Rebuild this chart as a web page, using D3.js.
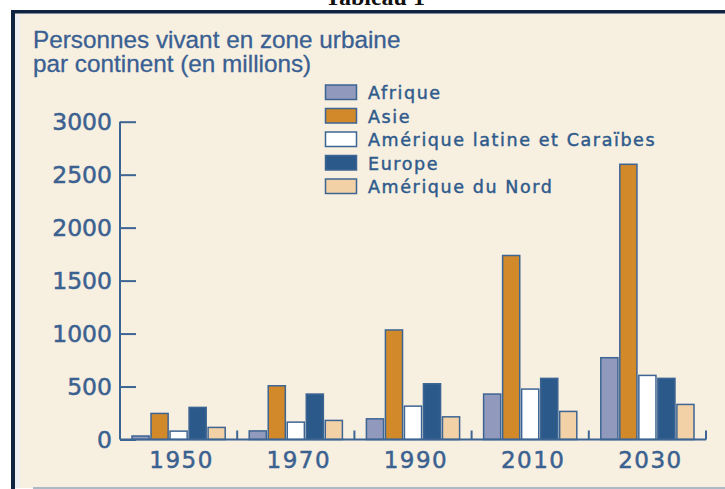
<!DOCTYPE html>
<html><head><meta charset="utf-8">
<script src="https://cdn.jsdelivr.net/npm/d3@7"></script>
<style>html,body{margin:0;padding:0;background:#fff;}svg{display:block;}</style>
</head><body>
<script>
const years = ["1950","1970","1990","2010","2030"];
const seriesNames = ["Afrique","Asie","Amérique latine et Caraïbes","Europe","Amérique du Nord"];
const afrique = [33, 81, 195, 429, 772];
const asie = [246, 507, 1034, 1737, 2598];
const ameriqueLatine = [79, 164, 315, 476, 605];
const europe = [303, 429, 526, 577, 577];
const ameriqueNord = [114, 180, 214, 265, 331];
const yTicks = [0, 500, 1000, 1500, 2000, 2500, 3000];
const colors = ["#9199bc", "#d1892a", "#ffffff", "#2b5a8a", "#f2d1a6"];
const seriesValues = [afrique, asie, ameriqueLatine, europe, ameriqueNord];

const W = 725, H = 489;
const svg = d3.select("body").append("svg").attr("width", W).attr("height", H);

// frame
svg.append("rect").attr("x",0).attr("y",0).attr("width",W).attr("height",H).attr("fill","#fff");
svg.append("rect").attr("x",13).attr("y",12).attr("width",W-13).attr("height",476).attr("fill","#f7efe0");
svg.append("rect").attr("x",15).attr("y",13).attr("width",5).attr("height",475).attr("fill","#eceef2");
svg.append("rect").attr("x",15).attr("y",13).attr("width",W-15).attr("height",2).attr("fill","#f3efe8");
svg.append("rect").attr("x",11).attr("y",10).attr("width",W-11).attr("height",3.5).attr("fill","#0f2443");
svg.append("rect").attr("x",11).attr("y",10).attr("width",4).attr("height",H-10).attr("fill","#0f2443");
svg.append("rect").attr("x",33).attr("y",487).attr("width",W-33).attr("height",2).attr("fill","#aeb9c6");

svg.append("text").attr("x",375).attr("y",5).attr("text-anchor","middle")
  .attr("font-family","Liberation Serif").attr("font-weight","bold").attr("font-size",24)
  .attr("fill","#111").text("Tableau 1");

// title
const title = svg.append("text").attr("font-family","Liberation Sans").attr("font-size",24.3)
  .attr("fill","#3a5f92").attr("stroke","#3a5f92").attr("stroke-width",0.3);
title.append("tspan").attr("x",33).attr("y",48).text("Personnes vivant en zone urbaine");
title.append("tspan").attr("x",33).attr("y",72).text("par continent (en millions)");

const y = d3.scaleLinear().domain([0,3000]).range([439.5,121.7]);
const x0 = d3.scaleBand().domain(years).range([120,706]).paddingInner(0).paddingOuter(0);
const x1 = d3.scaleBand().domain(d3.range(seriesNames.length)).range([12, x0.bandwidth()-12]).paddingInner(0.1);

const axisColor = "#3d6593", textColor = "#3b6190";

// bars
const g = svg.append("g");
years.forEach((yr, i) => {
  const gg = g.append("g").attr("transform", `translate(${x0(yr)},0)`);
  seriesValues.forEach((vals, s) => {
    gg.append("rect")
      .attr("x", x1(s)).attr("width", x1.bandwidth())
      .attr("y", y(vals[i])).attr("height", y(0) - y(vals[i]))
      .attr("fill", colors[s]).attr("stroke", axisColor).attr("stroke-width", 1.5);
  });
});

// y axis
const yAxis = d3.axisRight(y).tickValues(yTicks).tickSize(16).tickFormat("");
const ya = svg.append("g").attr("transform","translate(120,0)").call(yAxis);
ya.selectAll("path,line").attr("stroke",axisColor).attr("stroke-width",2);
ya.select(".domain").attr("d", `M0,${y(3000)}V${y(0)}`).attr("fill","none");
svg.append("g").selectAll("text").data(yTicks).join("text")
  .attr("x",112).attr("y",d=>y(d)).attr("dy","0.36em").attr("text-anchor","end")
  .attr("font-family","DejaVu Sans").attr("font-size",23.5).attr("fill",textColor)
  .attr("stroke",textColor).attr("stroke-width",0.5)
  .text(d=>d);

// x axis
svg.append("line").attr("x1",120).attr("x2",706).attr("y1",y(0)).attr("y2",y(0))
  .attr("stroke",axisColor).attr("stroke-width",2);
svg.append("g").selectAll("line").data(years).join("line")
  .attr("x1",d=>x0(d)+x0.bandwidth()).attr("x2",d=>x0(d)+x0.bandwidth())
  .attr("y1",y(0)).attr("y2",y(0)-9).attr("stroke",axisColor).attr("stroke-width",2);
svg.append("g").selectAll("text").data(years).join("text")
  .attr("x",d=>x0(d)+x0.bandwidth()/2+3).attr("y",468).attr("text-anchor","middle")
  .attr("font-family","DejaVu Sans").attr("font-size",23).attr("letter-spacing",1.5).attr("fill",textColor)
  .attr("stroke",textColor).attr("stroke-width",0.5)
  .text(d=>d);

// legend
const lg = svg.append("g");
seriesNames.forEach((name, s) => {
  const top = 85 + s*23.5;
  lg.append("rect").attr("x",325.5).attr("y",top).attr("width",31).attr("height",14.5)
    .attr("fill",colors[s]).attr("stroke",axisColor).attr("stroke-width",1.5);
  lg.append("text").attr("x",368).attr("y",top+14).attr("font-family","DejaVu Sans")
    .attr("font-size",17.5).attr("letter-spacing",1.6).attr("fill","#2f5b8c")
    .attr("stroke","#2f5b8c").attr("stroke-width",0.45).text(name);
});
</script>
</body></html>
